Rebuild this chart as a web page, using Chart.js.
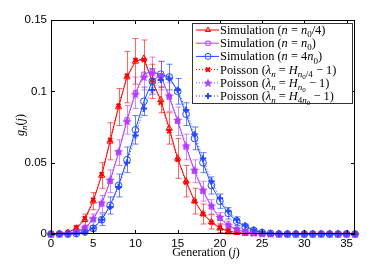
<!DOCTYPE html>
<html>
<head>
<meta charset="utf-8">
<script src="https://cdn.jsdelivr.net/npm/chart.js@4.4.0/dist/chart.umd.min.js"></script>
<style>
html,body{margin:0;padding:0;background:#fff}
#c{display:block}
</style>
</head>
<body>
<canvas id="c" width="392" height="264"></canvas>
<script>
// generation index j
const gens = [0,1,2,3,4,5,6,7,8,9,10,11,12,13,14,15,16,17,18,19,20,21,22,23,24,25,26,27,28,29,30,31,32,33,34,35,36]

// simulation, n = n0/4 (red)
const simRed = [0,0.0002,0.001,0.004,0.010,0.023,0.041,0.065,0.089,0.110,0.121,0.123,0.107,0.094,0.074,0.053,0.037,0.023,0.014,0.0085,0.004,0.002,0.001,0.0004,0.0002,0,0,0,0,0,0,0,0,0,0,0,0]
const errRed = [0,0,0.0005,0.002,0.004,0.006,0.009,0.013,0.013,0.018,0.016,0.013,0.012,0.009,0.011,0.014,0.011,0.009,0.007,0.005,0.003,0.002,0.001,0,0,0,0,0,0,0,0,0,0,0,0,0,0]
// simulation, n = n0 (purple)
const simPur = [0,0,0.0003,0.0015,0.004,0.010,0.021,0.037,0.057,0.080,0.099,0.112,0.114,0.111,0.096,0.079,0.061,0.044,0.030,0.019,0.011,0.006,0.003,0.0015,0.0006,0.0002,0,0,0,0,0,0,0,0,0,0,0]
const errPur = [0,0,0,0.001,0.002,0.004,0.006,0.008,0.009,0.010,0.011,0.011,0.010,0.010,0.010,0.010,0.009,0.008,0.007,0.005,0.004,0.003,0.002,0.001,0,0,0,0,0,0,0,0,0,0,0,0,0]
// simulation, n = 4 n0 (blue)
const simBlu = [0,0,0,0.0003,0.0015,0.004,0.010,0.020,0.034,0.052,0.073,0.093,0.107,0.112,0.110,0.100,0.084,0.067,0.050,0.034,0.023,0.0145,0.009,0.005,0.0025,0.001,0.0004,0,0,0,0,0,0,0,0,0,0]
const errBlu = [0,0,0,0,0.001,0.002,0.004,0.006,0.008,0.009,0.010,0.010,0.009,0.009,0.009,0.009,0.008,0.008,0.007,0.006,0.005,0.004,0.003,0.002,0.001,0,0,0,0,0,0,0,0,0,0,0,0]

// Poisson predictions
const poiRed = [0,0.0003,0.0012,0.0045,0.011,0.024,0.042,0.066,0.090,0.111,0.122,0.122,0.108,0.092,0.072,0.052,0.036,0.023,0.014,0.008,0.0045,0.0022,0.001,0.0005,0.0002,0,0,0,0,0,0,0,0,0,0,0,0]
const poiPur = [0,0,0.0004,0.0017,0.0045,0.011,0.022,0.038,0.058,0.079,0.098,0.110,0.113,0.110,0.097,0.080,0.062,0.045,0.031,0.020,0.012,0.0065,0.0035,0.0017,0.0007,0.0003,0,0,0,0,0,0,0,0,0,0,0]
const poiBlu = [0,0,0,0.0002,0.0012,0.004,0.010,0.019,0.033,0.050,0.069,0.088,0.101,0.108,0.109,0.101,0.087,0.070,0.053,0.037,0.025,0.016,0.010,0.006,0.003,0.0015,0.0006,0.0002,0,0,0,0,0,0,0,0,0]

const xTicks = [0,5,10,15,20,25,30,35]
const yTicks = [0,0.05,0.1,0.15]
const yTickLabels = ['0','0.05','0.1','0.15']

const RED = 'rgb(255,0,0)'
const PUR = 'rgb(176,60,255)'
const BLU = 'rgb(36,72,255)'

function pts(vals){ return gens.map((g,i)=>({x:g,y:vals[i]})) }

// filled five-point star used as a marker
function starMarker(color){
    const c = document.createElement('canvas')
    c.width = 10; c.height = 10
    const x = c.getContext('2d')
    x.fillStyle = color
    x.beginPath()
    for (let k=0;k<10;k++){
        const r = k%2 ? 2.1 : 4.9
        const a = -Math.PI/2 + k*Math.PI/5
        const px = 5 + r*Math.cos(a), py = 5.4 + r*Math.sin(a)
        k ? x.lineTo(px,py) : x.moveTo(px,py)
    }
    x.closePath(); x.fill()
    return c
}
const star = starMarker(PUR)

// rich text: [text, kind] n=normal i=italic s=sub italic s0=sub upright ss=subsub
function fontFor(k,size){
    const fam = '"Liberation Serif", "DejaVu Serif", serif'
    if (k==='n') return size+'px '+fam
    if (k==='i') return 'italic '+size+'px '+fam
    if (k==='s') return 'italic '+Math.round(size*0.72)+'px '+fam
    if (k==='s0') return Math.round(size*0.72)+'px '+fam
    if (k==='ss') return Math.round(size*0.58)+'px '+fam
}
function richWidth(ctx, segs, size){ let w=0; segs.forEach(s=>{ctx.font=fontFor(s[1],size); w+=ctx.measureText(s[0]).width}); return w }
function drawRich(ctx, segs, x, y, size){
    ctx.textBaseline = 'alphabetic'
    ctx.textAlign = 'left'
    segs.forEach(s=>{
        ctx.font = fontFor(s[1],size)
        let dy = 0
        if (s[1]==='s' || s[1]==='s0') dy = size*0.25
        if (s[1]==='ss') dy = size*0.42
        ctx.fillText(s[0], x, y+dy)
        x += ctx.measureText(s[0]).width
    })
}

const legendRows = [
    {color:RED, dash:false, style:'triangle', fill:false, segs:[['Simulation (','n'],['n','i'],[' = ','n'],['n','i'],['0','s0'],['/4)','n']]},
    {color:PUR, dash:false, style:'rect', fill:false, segs:[['Simulation (','n'],['n','i'],[' = ','n'],['n','i'],['0','s0'],[')','n']]},
    {color:BLU, dash:false, style:'circle', fill:false, segs:[['Simulation (','n'],['n','i'],[' = 4','n'],['n','i'],['0','s0'],[')','n']]},
    {color:RED, dash:true, style:'crossRot', bold:true, segs:[['Poisson (','n'],['λ','i'],['n','s'],[' = ','n'],['H','i'],['n','s'],['0','ss'],['/4','s0'],[' − 1)','n']]},
    {color:PUR, dash:true, style:star, segs:[['Poisson (','n'],['λ','i'],['n','s'],[' = ','n'],['H','i'],['n','s'],['0','ss'],[' − 1)','n']]},
    {color:BLU, dash:true, style:'cross', bold:true, segs:[['Poisson (','n'],['λ','i'],['n','s'],[' = ','n'],['H','i'],['4','s0'],['n','s'],['0','ss'],[' − 1)','n']]}
]

const errorBars = {
    id:'errorBars',
    beforeDatasetsDraw(chart){
        const ctx = chart.ctx, xs = chart.scales.x, ys = chart.scales.y
        chart.data.datasets.forEach(ds=>{
            if (!ds.errors) return
            ctx.save()
            ctx.strokeStyle = ds.errColor
            ctx.lineWidth = 1
            ds.data.forEach((p,i)=>{
                const e = ds.errors[i]
                if (!e) return
                const px = Math.round(xs.getPixelForValue(p.x))+0.5
                const top = ys.getPixelForValue(p.y+e), bot = ys.getPixelForValue(Math.max(p.y-e,0))
                ctx.beginPath()
                ctx.moveTo(px,top); ctx.lineTo(px,bot)
                ctx.moveTo(px-3,top); ctx.lineTo(px+3,top)
                ctx.moveTo(px-3,bot); ctx.lineTo(px+3,bot)
                ctx.stroke()
            })
            ctx.restore()
        })
    }
}

const frameAndText = {
    id:'frameAndText',
    afterDraw(chart){
        const ctx = chart.ctx, a = chart.chartArea, xs = chart.scales.x, ys = chart.scales.y
        ctx.save()
        ctx.strokeStyle = '#000'
        ctx.lineWidth = 1
        ctx.strokeRect(a.left+0.5, a.top+0.5, a.right-a.left-1, a.bottom-a.top-1)
        ctx.beginPath()
        xTicks.forEach(v=>{
            const px = Math.round(xs.getPixelForValue(v))+0.5
            ctx.moveTo(px,a.bottom); ctx.lineTo(px,a.bottom-4)
            ctx.moveTo(px,a.top); ctx.lineTo(px,a.top+4)
        })
        yTicks.forEach(v=>{
            const py = Math.round(ys.getPixelForValue(v))+0.5
            ctx.moveTo(a.left,py); ctx.lineTo(a.left+4,py)
            ctx.moveTo(a.right,py); ctx.lineTo(a.right-4,py)
        })
        ctx.stroke()

        // axis titles
        ctx.fillStyle = '#000'
        const xt = [['Generation (','n'],['j','i'],[')','n']]
        const xw = richWidth(ctx,xt,12)
        drawRich(ctx, xt, (a.left+a.right)/2 - xw/2 + 3, 256, 12)
        const yt = [['g','i'],['n','s'],['(','n'],['j','i'],[')','n']]
        const yw = richWidth(ctx,yt,12)
        ctx.save()
        ctx.translate(24,(a.top+a.bottom)/2 - 2)
        ctx.rotate(-Math.PI/2)
        drawRich(ctx, yt, -yw/2, 0, 12)
        ctx.restore()

        // legend
        const bx = 192, by = 23, bw = 160, bh = 80
        ctx.fillStyle = '#fff'
        ctx.fillRect(bx,by,bw,bh)
        ctx.strokeStyle = '#333'
        ctx.strokeRect(bx+0.5,by+0.5,bw,bh)
        legendRows.forEach((r,i)=>{
            const cy = by + 7 + i*13.2
            ctx.save()
            ctx.strokeStyle = r.color
            ctx.fillStyle = r.color
            ctx.lineWidth = 1
            ctx.setLineDash(r.dash ? [1,2] : [])
            ctx.beginPath(); ctx.moveTo(bx+4,cy); ctx.lineTo(bx+27,cy); ctx.stroke()
            ctx.setLineDash([])
            ctx.lineWidth = r.bold ? 2 : 1
            ctx.fillStyle = r.fill===false ? 'rgba(0,0,0,0)' : r.color
            Chart.helpers.drawPoint(ctx, {pointStyle:r.style, radius:3, rotation:0, borderWidth:ctx.lineWidth}, bx+16, cy)
            ctx.restore()
            ctx.fillStyle = '#000'
            drawRich(ctx, r.segs, bx+28, cy+4, 12.4)
        })
        ctx.restore()
    }
}

const tickFont = {family:'"Liberation Sans", Arial, sans-serif', size:11.5}

new Chart('c', {
    type:'line',
    data:{
        datasets:[
            {label:'simBlu', data:pts(simBlu), errors:errBlu, errColor:'rgba(36,72,255,0.7)', borderColor:BLU, borderWidth:1, pointStyle:'circle', pointRadius:3.4, pointBorderColor:BLU, pointBackgroundColor:'rgba(0,0,0,0)', pointBorderWidth:1, order:3},
            {label:'simPur', data:pts(simPur), errors:errPur, errColor:'rgba(176,60,255,0.6)', borderColor:PUR, borderWidth:1, pointStyle:'rect', pointRadius:3, pointBorderColor:PUR, pointBackgroundColor:'rgba(0,0,0,0)', pointBorderWidth:1, order:5},
            {label:'simRed', data:pts(simRed), errors:errRed, errColor:'rgba(255,0,0,0.6)', borderColor:RED, borderWidth:1, pointStyle:'triangle', pointRadius:3.6, pointBorderColor:RED, pointBackgroundColor:'rgba(0,0,0,0)', pointBorderWidth:1, order:6},
            {label:'poiRed', data:pts(poiRed), borderColor:RED, borderWidth:1, borderDash:[1,2], pointStyle:'crossRot', pointRadius:2.8, pointBorderColor:RED, pointBorderWidth:2, order:4},
            {label:'poiPur', data:pts(poiPur), borderColor:PUR, borderWidth:1, borderDash:[1,2], pointStyle:star, pointRadius:5, pointBorderColor:PUR, order:2},
            {label:'poiBlu', data:pts(poiBlu), borderColor:BLU, borderWidth:1, borderDash:[1,2], pointStyle:'cross', pointRadius:3.2, pointBorderColor:BLU, pointBorderWidth:2, order:1}
        ]
    },
    options:{
        responsive:false,
        animation:false,
        devicePixelRatio:1,
        layout:{padding:{left:0,top:20,right:37,bottom:0}},
        plugins:{legend:{display:false}, tooltip:{enabled:false}},
        elements:{line:{tension:0}},
        datasets:{line:{clip:false}},
        scales:{
            x:{type:'linear', min:0, max:36,
                afterBuildTicks(s){ s.ticks = xTicks.map(v=>({value:v})) },
                afterFit(s){ s.height = 30 },
                ticks:{font:tickFont, color:'#000', padding:3, maxRotation:0, autoSkip:false},
                grid:{display:false, drawTicks:false}, border:{display:false}},
            y:{min:0, max:0.15,
                afterBuildTicks(s){ s.ticks = yTicks.map(v=>({value:v})) },
                afterFit(s){ s.width = 51 },
                ticks:{font:tickFont, color:'#000', padding:4, autoSkip:false,
                    callback:(v)=>yTickLabels[yTicks.indexOf(v)]},
                grid:{display:false, drawTicks:false}, border:{display:false}}
        }
    },
    plugins:[errorBars, frameAndText]
})
</script>
</body>
</html>
